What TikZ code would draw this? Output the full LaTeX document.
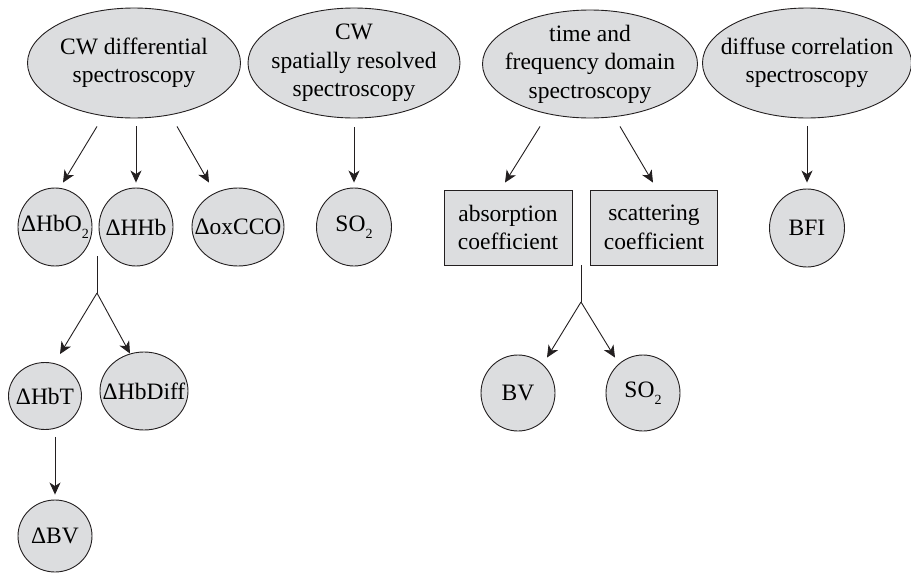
\documentclass[tikz,border=0pt]{standalone}
\usepackage{fontspec}
\setmainfont{Liberation Serif}
\usepackage{tikz}
\usetikzlibrary{calc,arrows.meta,shapes.geometric}
\definecolor{nodegray}{HTML}{DCDDDF}
\definecolor{ink}{HTML}{231F20}
\newcommand{\lowsub}[1]{\raisebox{-0.32em}{\fontsize{14}{14}\selectfont #1}}
\tikzset{meth/.style={ellipse,draw=ink,fill=nodegray,line width=0.9pt,inner xsep=-30pt,inner ysep=-20pt,align=center,font=\fontsize{23.5}{28.5}\selectfont},
  coef/.style={rectangle,draw=ink,fill=nodegray,line width=0.9pt,inner sep=0pt,align=center,font=\fontsize{23.5}{28.5}\selectfont},
  arr/.style={ink,line width=0.9pt,-{Stealth[length=12pt,width=11pt,inset=3.5pt]}},
  stem/.style={ink,line width=0.9pt}}

\begin{document}
\begin{tikzpicture}[x=1pt,y=-1pt]
\useasboundingbox (0,0) rectangle (911,573);
\node[meth,minimum width=213pt,minimum height=110pt] (cwd) at (134,63) {CW differential\\spectroscopy};
\node[meth,minimum width=212pt,minimum height=110pt] (sr) at (354,63) {CW\\spatially resolved\\spectroscopy};
\node[meth,minimum width=215pt,minimum height=108pt] (tfd) at (590,64) {time and\\frequency domain\\spectroscopy};
\node[meth,minimum width=209pt,minimum height=110pt] (dcs) at (807,63) {diffuse correlation\\spectroscopy};
\node[meth,minimum width=74pt,minimum height=78pt] (hbo) at (55,227) {ΔHbO\lowsub{2}};
\node[meth,minimum width=74pt,minimum height=78pt] (hhb) at (136,227) {ΔHHb};
\node[meth,minimum width=92pt,minimum height=78pt] (cco) at (238,227) {ΔoxCCO};
\node[meth,minimum width=75pt,minimum height=78pt] (soa) at (354,227) {SO\lowsub{2}};
\node[coef,minimum width=128pt,minimum height=75pt] (absc) at (508,227.5) {absorption\\coefficient};
\node[coef,minimum width=127pt,minimum height=75pt] (scat) at (654,227.5) {scattering\\coefficient};
\node[meth,minimum width=75pt,minimum height=78pt] (bfi) at (807,228) {BFI};
\node[meth,minimum width=73pt,minimum height=67pt] (hbt) at (45,396) {ΔHbT};
\node[meth,minimum width=88pt,minimum height=78pt] (hbd) at (144,391) {ΔHbDiff};
\node[meth,minimum width=74pt,minimum height=72pt] (dbv) at (55,536) {ΔBV};
\node[meth,minimum width=74pt,minimum height=76pt] (bv) at (518,393) {BV};
\node[meth,minimum width=74pt,minimum height=76pt] (sob) at (643,393) {SO\lowsub{2}};
% methods to quantities
\draw[arr] ([xshift=-37pt,yshift=-8pt]cwd.south) -- ([xshift=8pt,yshift=5pt]hbo.north);
\draw[arr] ([xshift=2pt,yshift=-8pt]cwd.south) -- ([yshift=5pt]hhb.north);
\draw[arr] ([xshift=43pt,yshift=-8pt]cwd.south) -- ([xshift=-29pt,yshift=5pt]cco.north);
\draw[arr] ([yshift=-9pt]sr.south) -- ([yshift=5pt]soa.north);
\draw[arr] ([xshift=-50pt,yshift=-8pt]tfd.south) -- ([xshift=-3pt,yshift=7pt]absc.north);
\draw[arr] ([xshift=30pt,yshift=-8pt]tfd.south) -- ([xshift=-1pt,yshift=7pt]scat.north);
\draw[arr] ([yshift=-8pt]dcs.south) -- ([yshift=6pt]bfi.north);
% derived quantities
\coordinate (f1t) at (97,256); \coordinate (f1) at (97,293);
\draw[stem] (f1t) -- (f1);
\draw[arr] (f1) -- ([xshift=15pt,yshift=8pt]hbt.north);
\draw[arr] (f1) -- ([xshift=-14pt,yshift=-2pt]hbd.north);
\draw[arr] ([xshift=10pt,yshift=-7pt]hbt.south) -- ([yshift=5pt]dbv.north);
\coordinate (f2t) at (581,265); \coordinate (f2) at (581,302);
\draw[stem] (f2t) -- (f2);
\draw[arr] (f2) -- ([xshift=29pt,yshift=-3pt]bv.north);
\draw[arr] (f2) -- ([xshift=-28pt,yshift=-3pt]sob.north);
\end{tikzpicture}
\end{document}
